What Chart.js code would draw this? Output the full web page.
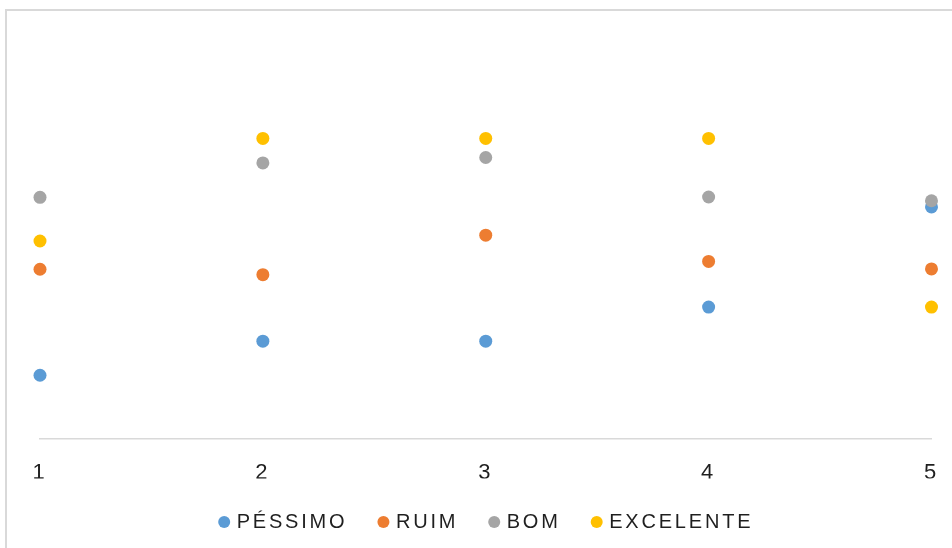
<!DOCTYPE html>
<html>
<head>
<meta charset="utf-8">
<script src="https://cdn.jsdelivr.net/npm/chart.js@4.4.0/dist/chart.umd.min.js"></script>
<style>
  html, body { margin: 0; padding: 0; background: #fff; overflow: hidden; }
  #wrap { position: relative; width: 952px; height: 548px; }
  #frame { position: absolute; left: 5px; top: 9px; right: -10px; bottom: -10px;
           border: 2px solid #d9d9d9; pointer-events: none; }
</style>
</head>
<body>
<div id="wrap">
  <canvas id="resultPlot" width="952" height="548"></canvas>
  <div id="frame"></div>
</div>
<script>
// values
const xValues = [1, 2, 3, 4, 5];
const pessimo = [1.87, 2.87, 2.87, 3.87, 6.81];
const ruim = [4.98, 4.82, 5.98, 5.21, 4.99];
const bom = [7.09, 8.10, 8.26, 7.10, 6.99];
const excelente = [5.81, 8.82, 8.82, 8.82, 3.87];

const seriesNames = ['PÉSSIMO', 'RUIM', 'BOM', 'EXCELENTE'];
const seriesValues = [pessimo, ruim, bom, excelente];
const colrs = ['#5B9BD5', '#ED7D31', '#A5A5A5', '#FFC000'];


/**
 * wider text like the excel export
 */
const spacingPlugin = {
    id: 'spacing',
    beforeUpdate(chart) { chart.ctx.letterSpacing = '2.8px'; },
    beforeDraw(chart) { chart.ctx.letterSpacing = '2.8px'; }
};


function draw(){
    let plotArea = document.getElementById('resultPlot');
    let datasets = [];
    for (let i = 0; i < seriesValues.length; i++){
        let temp = {};
        temp['label'] = seriesNames[i];
        temp['data'] = xValues.map(function(x, j){ return {x: x, y: seriesValues[i][j]}; });
        temp['backgroundColor'] = colrs[i];
        temp['borderColor'] = colrs[i];
        temp['borderWidth'] = 0;
        temp['pointRadius'] = 6.5;
        temp['pointHoverRadius'] = 6.5;
        temp['pointBorderWidth'] = 0;
        temp['clip'] = false;
        temp['order'] = seriesValues.length - i;
        datasets.push(temp);
    }

    let chartObject = {};
    chartObject['type'] = 'scatter';
    chartObject['data'] = {datasets: datasets};
    chartObject['plugins'] = [spacingPlugin];
    chartObject['options'] = {
        responsive: false,
        animation: false,
        layout: {padding: {left: 40, right: 17, top: 30, bottom: 6}},
        scales: {
            x: {
                type: 'linear', min: 1, max: 5,
                grid: {display: false},
                border: {display: true, color: '#d9d9d9', width: 1.5},
                ticks: {stepSize: 1, padding: 13, color: '#1f1f1f',
                        font: {family: 'Liberation Sans', size: 22}},
                afterFit: function(scale){ scale.height = 39.5; }
            },
            y: {display: false, min: 0, max: 12}
        },
        plugins: {
            tooltip: {enabled: false},
            legend: {
                position: 'bottom',
                labels: {
                    usePointStyle: true, pointStyle: 'circle',
                    boxWidth: 5, boxHeight: 8.5, padding: 33.5,
                    color: '#1f1f1f',
                    font: {family: 'Liberation Sans', size: 20},
                    sort: function(a, b){ return a.datasetIndex - b.datasetIndex; }
                }
            }
        }
    };

    new Chart(plotArea, chartObject);
}

draw();
</script>
</body>
</html>
